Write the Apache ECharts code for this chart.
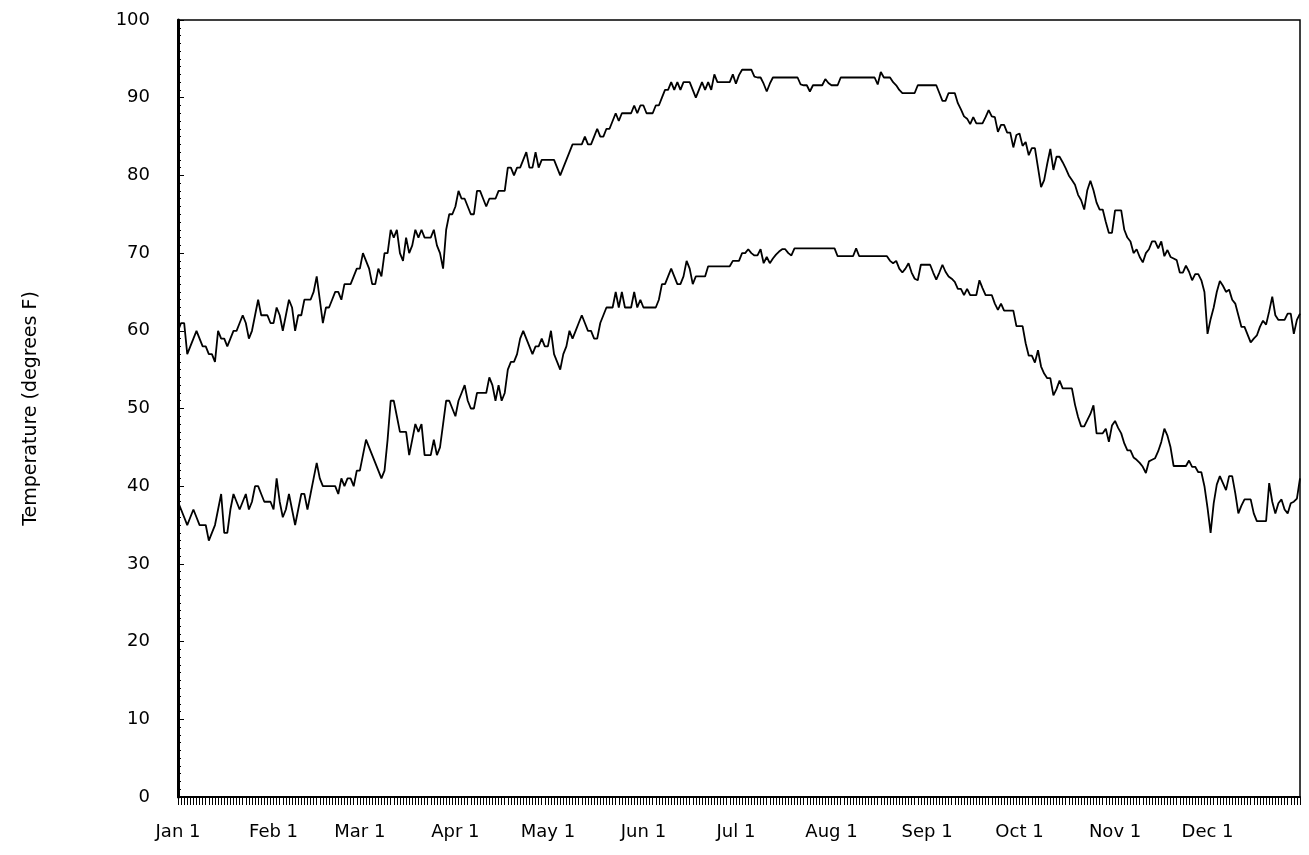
<!DOCTYPE html>
<html>
<head>
<meta charset="utf-8">
<script src="https://cdn.jsdelivr.net/npm/echarts@6/dist/echarts.min.js"></script>
<style>
  html, body { margin: 0; padding: 0; background: #fff; }
  #chart { width: 1309px; height: 855px; }
</style>
</head>
<body>
<div id="chart"></div>
<script>
// month names and lengths (non leap year)
const monthNames = ['Jan', 'Feb', 'Mar', 'Apr', 'May', 'Jun', 'Jul', 'Aug', 'Sep', 'Oct', 'Nov', 'Dec'];
const monthDays = [31, 28, 31, 30, 31, 30, 31, 31, 30, 31, 30, 31];
const yTicks = [0, 10, 20, 30, 40, 50, 60, 70, 80, 90, 100];

// daily highs
const highJan = [60, 61, 61, 57, 58, 59, 60, 59, 58, 58, 57, 57, 56, 60, 59, 59, 58, 59, 60, 60, 61, 62, 61, 59, 60, 62, 64, 62, 62, 62, 61];
const highFeb = [61, 63, 62, 60, 62, 64, 63, 60, 62, 62, 64, 64, 64, 65, 67, 64, 61, 63, 63, 64, 65, 65, 64, 66, 66, 66, 67, 68];
const highMar = [68, 70, 69, 68, 66, 66, 68, 67, 70, 70, 73, 72, 73, 70, 69, 72, 70, 71, 73, 72, 73, 72, 72, 72, 73, 71, 70, 68, 73, 75, 75];
const highApr = [76, 78, 77, 77, 76, 75, 75, 78, 78, 77, 76, 77, 77, 77, 78, 78, 78, 81, 81, 80, 81, 81, 82, 83, 81, 81, 83, 81, 82, 82];
const highMay = [82, 82, 82, 81, 80, 81, 82, 83, 84, 84, 84, 84, 85, 84, 84, 85, 86, 85, 85, 86, 86, 87, 88, 87, 88, 88, 88, 88, 89, 88, 89];
const highJun = [89, 88, 88, 88, 89, 89, 90, 91, 91, 92, 91, 92, 91, 92, 92, 92, 91, 90, 91, 92, 91, 92, 91, 93, 92, 92, 92, 92, 92, 93];
const highJul = [91.8, 92.9, 93.6, 93.6, 93.6, 93.6, 92.7, 92.6, 92.6, 91.8, 90.8, 91.8, 92.6, 92.6, 92.6, 92.6, 92.6, 92.6, 92.6, 92.6, 92.6, 91.7, 91.6, 91.6, 90.8, 91.6, 91.6, 91.6, 91.6, 92.4, 91.9];
const highAug = [91.6, 91.6, 91.6, 92.6, 92.6, 92.6, 92.6, 92.6, 92.6, 92.6, 92.6, 92.6, 92.6, 92.6, 92.6, 91.7, 93.3, 92.6, 92.6, 92.6, 92, 91.6, 91, 90.6, 90.6, 90.6, 90.6, 90.6, 91.6, 91.6, 91.6];
const highSep = [91.6, 91.6, 91.6, 91.6, 90.6, 89.6, 89.6, 90.6, 90.6, 90.6, 89.3, 88.5, 87.6, 87.3, 86.6, 87.5, 86.7, 86.7, 86.7, 87.5, 88.4, 87.6, 87.5, 85.6, 86.5, 86.5, 85.5, 85.5, 83.6, 85.2];
const highOct = [85.4, 83.8, 84.3, 82.6, 83.5, 83.5, 81, 78.5, 79.4, 81.5, 83.4, 80.7, 82.4, 82.4, 81.7, 80.9, 80, 79.4, 78.8, 77.5, 76.8, 75.6, 78.1, 79.3, 78.1, 76.5, 75.6, 75.6, 74, 72.6, 72.6];
const highNov = [75.5, 75.5, 75.5, 73, 72, 71.5, 70, 70.5, 69.5, 68.8, 70, 70.5, 71.5, 71.5, 70.6, 71.5, 69.6, 70.4, 69.5, 69.3, 69.1, 67.5, 67.5, 68.4, 67.6, 66.5, 67.3, 67.3, 66.5, 65];
const highDec = [59.6, 61.5, 63, 65, 66.4, 65.8, 65, 65.3, 64, 63.5, 62, 60.5, 60.5, 59.5, 58.5, 59, 59.4, 60.5, 61.3, 60.8, 62.5, 64.4, 62, 61.4, 61.4, 61.4, 62.2, 62.2, 59.6, 61.4, 62.2];

// daily lows
const lowJan = [38, 37, 36, 35, 36, 37, 36, 35, 35, 35, 33, 34, 35, 37, 39, 34, 34, 37, 39, 38, 37, 38, 39, 37, 38, 40, 40, 39, 38, 38, 38];
const lowFeb = [37, 41, 38, 36, 37, 39, 37, 35, 37, 39, 39, 37, 39, 41, 43, 41, 40, 40, 40, 40, 40, 39, 41, 40, 41, 41, 40, 42];
const lowMar = [42, 44, 46, 45, 44, 43, 42, 41, 42, 46, 51, 51, 49, 47, 47, 47, 44, 46, 48, 47, 48, 44, 44, 44, 46, 44, 45, 48, 51, 51, 50];
const lowApr = [49, 51, 52, 53, 51, 50, 50, 52, 52, 52, 52, 54, 53, 51, 53, 51, 52, 55, 56, 56, 57, 59, 60, 59, 58, 57, 58, 58, 59, 58];
const lowMay = [58, 60, 57, 56, 55, 57, 58, 60, 59, 60, 61, 62, 61, 60, 60, 59, 59, 61, 62, 63, 63, 63, 65, 63, 65, 63, 63, 63, 65, 63, 64];
const lowJun = [63, 63, 63, 63, 63, 64, 66, 66, 67, 68, 67, 66, 66, 67, 69, 68, 66, 67, 67, 67, 67, 68.3, 68.3, 68.3, 68.3, 68.3, 68.3, 68.3, 68.3, 69];
const lowJul = [69, 69, 70, 70, 70.5, 70, 69.7, 69.7, 70.5, 68.7, 69.5, 68.7, 69.3, 69.8, 70.2, 70.5, 70.5, 70, 69.7, 70.6, 70.6, 70.6, 70.6, 70.6, 70.6, 70.6, 70.6, 70.6, 70.6, 70.6, 70.6];
const lowAug = [70.6, 70.6, 69.6, 69.6, 69.6, 69.6, 69.6, 69.6, 70.6, 69.6, 69.6, 69.6, 69.6, 69.6, 69.6, 69.6, 69.6, 69.6, 69.6, 69, 68.7, 69, 68, 67.5, 68, 68.7, 67.5, 66.7, 66.5, 68.5, 68.5];
const lowSep = [68.5, 68.5, 67.5, 66.6, 67.5, 68.5, 67.6, 67, 66.7, 66.3, 65.4, 65.4, 64.6, 65.4, 64.6, 64.6, 64.6, 66.5, 65.5, 64.6, 64.6, 64.6, 63.5, 62.7, 63.5, 62.6, 62.6, 62.6, 62.6, 60.6];
const lowOct = [60.6, 60.6, 58.4, 56.8, 56.8, 55.9, 57.5, 55.4, 54.5, 53.9, 53.9, 51.7, 52.5, 53.6, 52.6, 52.6, 52.6, 52.6, 50.5, 48.9, 47.7, 47.7, 48.5, 49.3, 50.4, 46.8, 46.8, 46.8, 47.4, 45.7, 47.8];
const lowNov = [48.4, 47.5, 46.8, 45.5, 44.6, 44.6, 43.7, 43.4, 43, 42.5, 41.7, 43.2, 43.4, 43.6, 44.5, 45.7, 47.4, 46.5, 45, 42.6, 42.6, 42.6, 42.6, 42.6, 43.3, 42.5, 42.5, 41.8, 41.8, 40];
const lowDec = [37.2, 34, 37.8, 40.2, 41.3, 40.4, 39.5, 41.3, 41.3, 39.1, 36.5, 37.5, 38.3, 38.3, 38.3, 36.5, 35.5, 35.5, 35.5, 35.5, 40.4, 38, 36.5, 37.8, 38.3, 37, 36.5, 37.8, 38, 38.4, 41];

const highs = [].concat(highJan, highFeb, highMar, highApr, highMay, highJun, highJul, highAug, highSep, highOct, highNov, highDec);
const lows = [].concat(lowJan, lowFeb, lowMar, lowApr, lowMay, lowJun, lowJul, lowAug, lowSep, lowOct, lowNov, lowDec);

// one category per day: "Jan 1" ... "Dec 31"
const days = [];
monthNames.forEach((m, i) => {
  for (let d = 1; d <= monthDays[i]; d++) days.push(m + ' ' + d);
});

const FONT = 'DejaVu Sans';
const chart = echarts.init(document.getElementById('chart'));

chart.setOption({
  animation: false,
  backgroundColor: '#fff',
  grid: {
    left: 178,
    right: 9,
    top: 20,
    bottom: 58,
    show: true,
    borderColor: '#000',
    borderWidth: 1.5
  },
  xAxis: {
    type: 'category',
    data: days,
    boundaryGap: false,
    axisLine: { lineStyle: { color: '#000', width: 2 } },
    axisTick: {
      show: true,
      interval: 0,
      length: 8,
      lineStyle: { color: '#000', width: 1 }
    },
    axisLabel: {
      // only the first day of each month gets a label
      interval: (idx, val) => / 1$/.test(val),
      margin: 26,
      color: '#000',
      fontFamily: FONT,
      fontSize: 18
    },
    splitLine: { show: false }
  },
  yAxis: {
    type: 'value',
    min: yTicks[0],
    max: yTicks[yTicks.length - 1],
    interval: 10,
    name: 'Temperature (degrees F)',
    nameLocation: 'middle',
    nameGap: 137,
    nameTextStyle: { color: '#000', fontFamily: FONT, fontSize: 19 },
    axisLine: { show: true, lineStyle: { color: '#000', width: 3 } },
    axisTick: { show: true, inside: true, length: 6, lineStyle: { color: '#000' } },
    minorTick: { show: true, splitNumber: 10, length: 3, lineStyle: { color: '#000' } },
    axisLabel: {
      margin: 28,
      color: '#000',
      fontFamily: FONT,
      fontSize: 18
    },
    splitLine: { show: false }
  },
  series: [
    {
      name: 'High',
      type: 'line',
      data: highs,
      showSymbol: false,
      lineStyle: { color: '#000', width: 1.8 }
    },
    {
      name: 'Low',
      type: 'line',
      data: lows,
      showSymbol: false,
      lineStyle: { color: '#000', width: 1.8 }
    }
  ]
});
</script>
</body>
</html>
